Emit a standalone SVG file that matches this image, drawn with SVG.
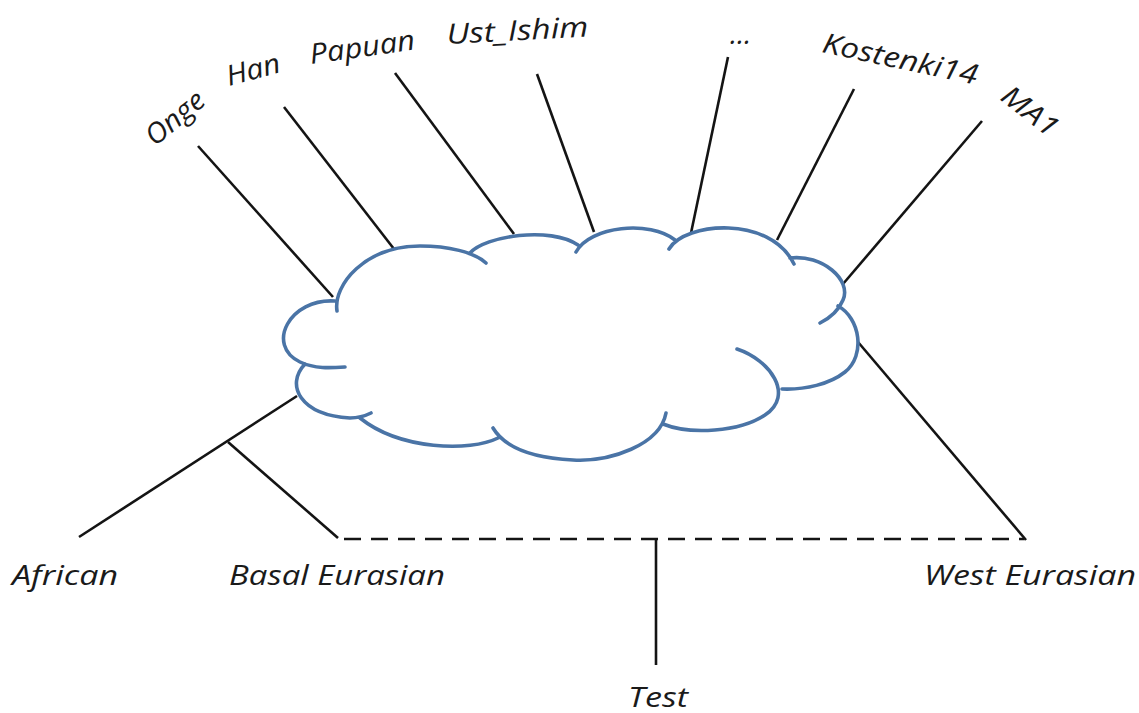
<svg xmlns="http://www.w3.org/2000/svg" width="1139" height="713" viewBox="0 0 1139 713">
<style>
.lbl{font-family:"Open Sans","Liberation Sans",sans-serif;font-style:italic;font-size:28px;fill:#1a1a1a}
.ln{stroke:#141414;stroke-width:2.6;fill:none;stroke-linecap:butt}
.dash{stroke:#141414;stroke-width:2.6;fill:none;stroke-dasharray:17 10}
.cloud{stroke:#4a74a6;stroke-width:3.6;fill:none;stroke-linecap:round}
</style>
<rect width="1139" height="713" fill="#ffffff"/>
<g id="connectors">
<line class="ln" x1="198" y1="146" x2="333" y2="297"/>
<line class="ln" x1="284" y1="107" x2="394" y2="249"/>
<line class="ln" x1="395" y1="73" x2="514" y2="234"/>
<line class="ln" x1="537" y1="74" x2="594" y2="232"/>
<line class="ln" x1="728" y1="57" x2="691" y2="233"/>
<line class="ln" x1="854" y1="89" x2="777" y2="240"/>
<line class="ln" x1="982" y1="121" x2="843" y2="284"/>
<line class="ln" x1="858" y1="342" x2="1026" y2="540"/>
<line class="ln" x1="79" y1="537" x2="297" y2="396"/>
<line class="ln" x1="228" y1="442" x2="338" y2="538"/>
<line class="dash" x1="344" y1="539" x2="1024" y2="539"/>
<line class="ln" x1="656" y1="540" x2="656" y2="665"/>
</g>
<g id="cloud">
<path d="M305,364 C285,385 300,415 350,418 C358,418 365,416 371,413 M498,438 C470,452 400,450 360,418 M666,413 C660,445 610,462 573,460 C535,458 505,448 493,428 M737,349 C770,360 795,395 765,415 C740,432 690,435 663,424 M838,306 C860,318 866,355 845,372 C830,384 805,390 782,389 M790,258 C822,254 852,280 843,300 C838,312 830,318 820,323 M669,249 C685,222 770,215 794,264 M576,252 C590,226 650,220 675,240 M470,253 C485,236 550,226 578,245 M337,311 C333,285 365,246 420,246 C448,246 474,252 486,263 M335,301 C290,298 265,345 300,362 C315,369 330,368 345,367" class="cloud" fill="none"/>
</g>
<g id="node-onge"><text class="lbl" transform="translate(155,147) rotate(-40)" textLength="68" lengthAdjust="spacingAndGlyphs">Onge</text></g>
<g id="node-han"><text class="lbl" transform="translate(229,86) rotate(-15)" textLength="55" lengthAdjust="spacingAndGlyphs">Han</text></g>
<g id="node-papuan"><text class="lbl" transform="translate(311,64) rotate(-8)" textLength="106" lengthAdjust="spacingAndGlyphs">Papuan</text></g>
<g id="node-ust-ishim"><text class="lbl" transform="translate(447,44) rotate(-3)" textLength="142" lengthAdjust="spacingAndGlyphs">Ust_Ishim</text></g>
<g id="node-ellipsis"><text class="lbl" x="730" y="44">…</text></g>
<g id="node-kostenki14"><text class="lbl" transform="translate(821,52) rotate(12)" textLength="158" lengthAdjust="spacingAndGlyphs">Kostenki14</text></g>
<g id="node-ma1"><text class="lbl" transform="translate(999,99) rotate(38)" textLength="64" lengthAdjust="spacingAndGlyphs">MA1</text></g>
<g id="node-african"><text class="lbl" x="12" y="585" textLength="106" lengthAdjust="spacingAndGlyphs">African</text></g>
<g id="node-basal-eurasian"><text class="lbl" x="229" y="585" textLength="216" lengthAdjust="spacingAndGlyphs">Basal Eurasian</text></g>
<g id="node-west-eurasian"><text class="lbl" x="924" y="585" textLength="212" lengthAdjust="spacingAndGlyphs">West Eurasian</text></g>
<g id="node-test"><text class="lbl" x="628" y="707" textLength="60" lengthAdjust="spacingAndGlyphs">Test</text></g>
</svg>
